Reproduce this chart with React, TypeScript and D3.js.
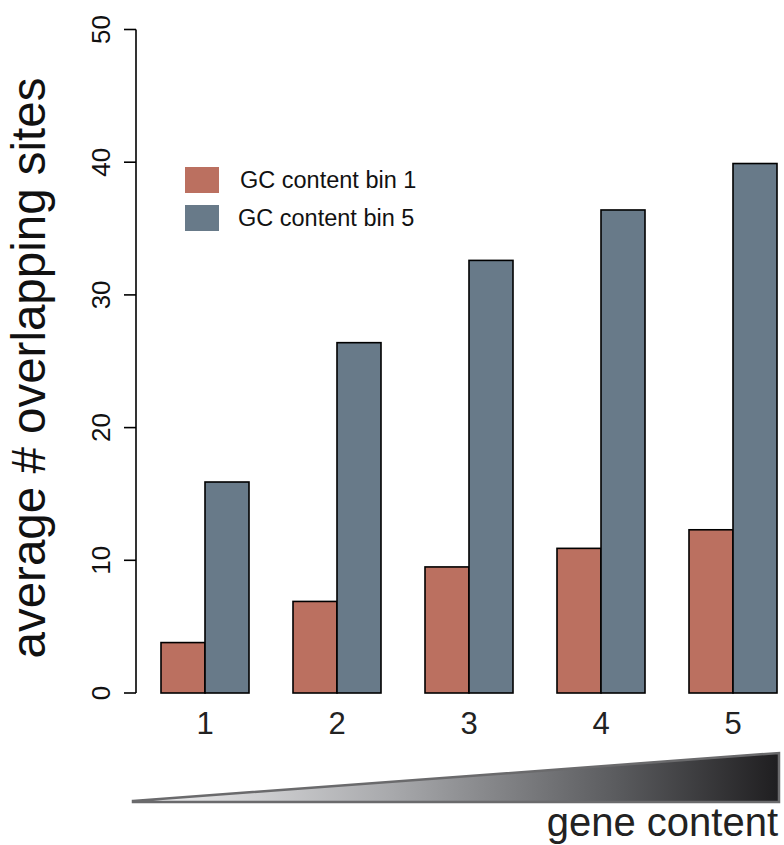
import React from "react";
import * as d3 from "d3";

const groups = ["1", "2", "3", "4", "5"];
const seriesNames = ["GC content bin 1", "GC content bin 5"];
const bin1 = [3.8, 6.9, 9.5, 10.9, 12.3];
const bin5 = [15.9, 26.4, 32.6, 36.4, 39.9];
const yTicks = [0, 10, 20, 30, 40, 50];
const colors = ["#bb7060", "#687a89"];

const W = 784;
const H = 845;
const font = "Liberation Sans, Arial, Helvetica, sans-serif";

export default function App() {
  // barplot units: each group two bars of width 1, one unit gap before each group
  const x = d3.scaleLinear().domain([0, 1]).range([117, 161]);
  const y = d3.scaleLinear().domain([0, 50]).range([693, 29.5]);
  const series = [bin1, bin5];

  const axisX = 136;

  return (
    <svg
      width={W}
      height={H}
      style={{ position: "absolute", left: 0, top: 0, background: "#fff" }}
      fontFamily={font}
    >
      <defs>
        <linearGradient id="geneGrad" x1="0" x2="1" y1="0" y2="0">
          <stop offset="0%" stopColor="#f2f2f3" />
          <stop offset="40%" stopColor="#a8a9ac" />
          <stop offset="75%" stopColor="#5a5b5e" />
          <stop offset="100%" stopColor="#1f1e20" />
        </linearGradient>
      </defs>

      {/* y axis */}
      <line x1={axisX} x2={axisX} y1={y(0)} y2={y(50)} stroke="#000" strokeWidth={1.6} />
      {yTicks.map((t) => (
        <g key={t}>
          <line x1={axisX - 12} x2={axisX} y1={y(t)} y2={y(t)} stroke="#000" strokeWidth={1.6} />
          <text
            transform={`translate(110,${y(t)}) rotate(-90)`}
            textAnchor="middle"
            fontSize={26}
            fill="#111"
          >
            {t}
          </text>
        </g>
      ))}

      {/* y title */}
      <text
        transform={`translate(45,368) rotate(-90)`}
        textAnchor="middle"
        fontSize={47.5}
        fill="#111"
      >
        average # overlapping sites
      </text>

      {/* bars */}
      {groups.map((g, i) => {
        const start = 1 + i * 3;
        return (
          <g key={g}>
            {series.map((s, j) => (
              <rect
                key={j}
                x={x(start + j)}
                y={y(s[i])}
                width={x(1) - x(0)}
                height={y(0) - y(s[i])}
                fill={colors[j]}
                stroke="#000"
                strokeWidth={1.6}
              />
            ))}
            <text
              x={x(start + 1)}
              y={734}
              textAnchor="middle"
              fontSize={31}
              fill="#222"
            >
              {g}
            </text>
          </g>
        );
      })}

      {/* legend */}
      {seriesNames.map((name, j) => (
        <g key={name}>
          <rect x={185} y={167 + j * 38} width={34} height={26} fill={colors[j]} />
          <text x={240 - j * 2} y={188 + j * 38} fontSize={23.5} fill="#111">
            {name}
          </text>
        </g>
      ))}

      {/* gene content wedge */}
      <polygon
        points="133,801 779,753 779,802 133,802"
        fill="url(#geneGrad)"
        stroke="#6a6a6c"
        strokeWidth={2.5}
        strokeLinejoin="miter"
      />
      <text x={778} y={836} textAnchor="end" fontSize={40} fill="#222">
        gene content
      </text>
    </svg>
  );
}
